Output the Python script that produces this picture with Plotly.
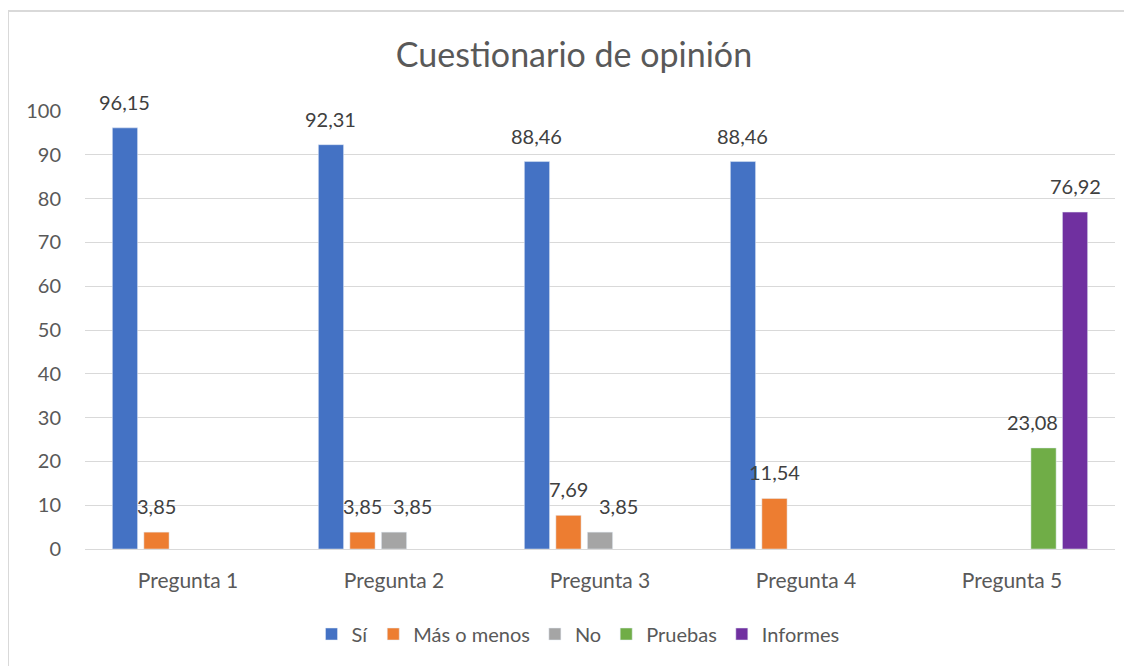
import plotly.graph_objects as go

categories = ["Pregunta 1", "Pregunta 2", "Pregunta 3", "Pregunta 4", "Pregunta 5"]
si = [96.15, 92.31, 88.46, 88.46, None]
mas_o_menos = [3.85, 3.85, 7.69, 11.54, None]
no = [None, 3.85, 3.85, None, None]
pruebas = [None, None, None, None, 23.08]
informes = [None, None, None, None, 76.92]

series = [
    ("Sí", si, "#4472C4"),
    ("Más o menos", mas_o_menos, "#ED7D31"),
    ("No", no, "#A5A5A5"),
    ("Pruebas", pruebas, "#70AD47"),
    ("Informes", informes, "#7030A0"),
]
# horizontal nudge of the data labels (px), as placed in the original
label_nudge = [0, 0, 18, -11, 0]

FONT = "Lato, 'Open Sans', sans-serif"
FS = 20

def fmt(v):
    return f"{v:.2f}".replace(".", ",")

# page renders with an 8px body offset; compensate
OFF = 8
W, H = 1132, 666
L, R, T, B = 85 - OFF, 25, 111 - OFF, 125
pw, ph = W - L - R, H - T - B
BARGAP, GROUPGAP = 0.235, 0.2
slot = pw / len(categories) * (1 - BARGAP) / len(series)

def px(x):
    return (x - OFF - L) / pw

def py(y):
    return (H - B - (y - OFF)) / ph

fig = go.Figure()
annotations = []
for i, (name, vals, color) in enumerate(series):
    fig.add_trace(go.Bar(x=categories, y=vals, name=name, marker_color=color))
    for cat, v in zip(categories, vals):
        if v is None:
            continue
        annotations.append(dict(
            x=cat, y=v, xref="x", yref="y", text=fmt(v), showarrow=False,
            xanchor="center", yanchor="middle",
            xshift=(i - (len(series) - 1) / 2) * slot + label_nudge[i], yshift=26,
            font=dict(family=FONT, size=FS, color="#404040"),
        ))

fig.update_layout(
    width=W, height=H,
    margin=dict(l=L, r=R, t=T, b=B),
    paper_bgcolor="white", plot_bgcolor="white",
    barmode="group", bargap=BARGAP, bargroupgap=GROUPGAP,
    separators=",.",
    font=dict(family=FONT, size=FS, color="#595959"),
    title=dict(text="Cuestionario de opinión", x=px(574), xref="paper", xanchor="center",
               y=1 - (55 - OFF) / H, yref="container", yanchor="middle",
               font=dict(family=FONT, size=34, color="#595959")),
    legend=dict(orientation="h", x=px(578), xanchor="center", y=py(634), yanchor="middle",
                font=dict(family=FONT, size=FS, color="#595959"), itemwidth=30,
                traceorder="normal"),
    showlegend=True,
    annotations=annotations,
    yaxis=dict(range=[0, 100], dtick=10, showgrid=True, gridcolor="#D9D9D9", gridwidth=1,
               zeroline=True, zerolinecolor="#D9D9D9", zerolinewidth=1, showline=False,
               ticks="", ticklabelstandoff=23,
               tickfont=dict(family=FONT, size=FS, color="#595959")),
    xaxis=dict(showgrid=False, showline=False, ticks="", ticklabelstandoff=17,
               tickfont=dict(family=FONT, size=21, color="#595959")),
    shapes=[
        dict(type="line", xref="paper", yref="paper", x0=px(8), x1=px(1150), y0=py(11), y1=py(11),
             line=dict(color="#D9D9D9", width=2)),
        dict(type="line", xref="paper", yref="paper", x0=px(8), x1=px(8), y0=py(11), y1=py(690),
             line=dict(color="#D9D9D9", width=2)),
    ],
)

fig.write_html("out.html")
